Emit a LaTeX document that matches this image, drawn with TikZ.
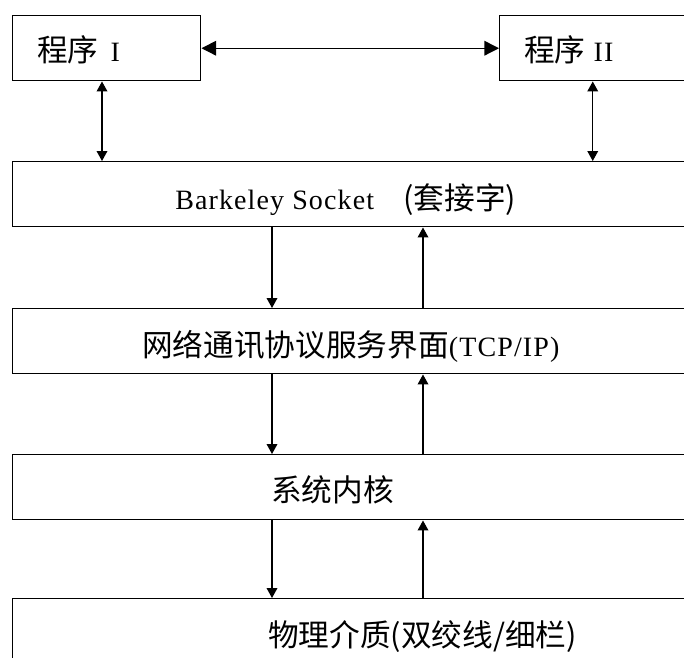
\documentclass[tikz,border=0pt]{standalone}
\usepackage{fontspec}
\setmainfont{Liberation Serif}[LetterSpace=4]
\newfontfamily\cjk{Noto Sans CJK SC}
\usetikzlibrary{arrows.meta}

\begin{document}
\begin{tikzpicture}[x=0.75pt,y=-0.75pt,
  box/.style={draw,line width=1.1pt,anchor=north west,inner sep=0pt,minimum height=48.75pt},
  lbl/.style={inner sep=0pt,anchor=west,font=\fontsize{21}{23}\selectfont},
  bigtip/.style={line width=1pt,{Triangle[length=11pt,width=11pt]}-{Triangle[length=11pt,width=11pt]}},
  duo/.style={line width=1pt,{Triangle[length=7.5pt,width=8pt]}-{Triangle[length=7.5pt,width=8pt]}},
  one/.style={line width=1pt,-{Triangle[length=7.5pt,width=8pt]}}]
  \useasboundingbox (0,0) rectangle (684,657);
  \fill[white] (0,0) rectangle (684,657);
  \clip (0,0) rectangle (684,657);

  % program boxes
  \node[box,minimum width=141pt] (prgA) at (12,15) {};
  \node[box,minimum width=139.5pt] (prgB) at (499,15) {};
  \node[lbl] (tA) at (37,50) {{\cjk\fontsize{23}{25}\selectfont 程序}\hspace{9pt}I};
  \node[lbl] (tB) at (524,50) {{\cjk\fontsize{23}{25}\selectfont 程序}\hspace{6pt}II};

  % layers
  \node[box,minimum width=516pt] (sock) at (12,161) {};
  \node[box,minimum width=516pt] (tcp) at (12,308) {};
  \node[box,minimum width=516pt] (kern) at (12,454) {};
  \node[box,minimum width=516pt,minimum height=61.5pt] (phys) at (12,598) {};

  \node[lbl] (tS) at (175,200) {Barkeley Socket\hspace{22pt}{\cjk\fontsize{23}{25}\selectfont (套接字)}};
  \node[lbl] (tT) at (142,346) {{\cjk\fontsize{23}{25}\selectfont 网络通讯协议服务界面}(TCP/IP)};
  \node[lbl] (tK) at (271,490) {\cjk\fontsize{23}{25}\selectfont 系统内核};
  \node[lbl] (tP) at (268,637) {\cjk\fontsize{23}{25}\selectfont 物理介质(双绞线/细栏)};

  %arrows
  \coordinate (la) at (102,0);
  \coordinate (dn) at (272,0);
  \coordinate (up) at (423,0);
  \draw[bigtip] (prgA.east) -- (prgB.west);
  \draw[duo] (prgA.south -| la) -- (sock.north -| la);
  \draw[duo] (prgB.south) -- (prgB.south |- sock.north);
  \draw[one] (sock.south -| dn) -- (tcp.north -| dn);
  \draw[one] (tcp.north -| up) -- (sock.south -| up);
  \draw[one] (tcp.south -| dn) -- (kern.north -| dn);
  \draw[one] (kern.north -| up) -- (tcp.south -| up);
  \draw[one] (kern.south -| dn) -- (phys.north -| dn);
  \draw[one] (phys.north -| up) -- (kern.south -| up);

\end{tikzpicture}
\end{document}
